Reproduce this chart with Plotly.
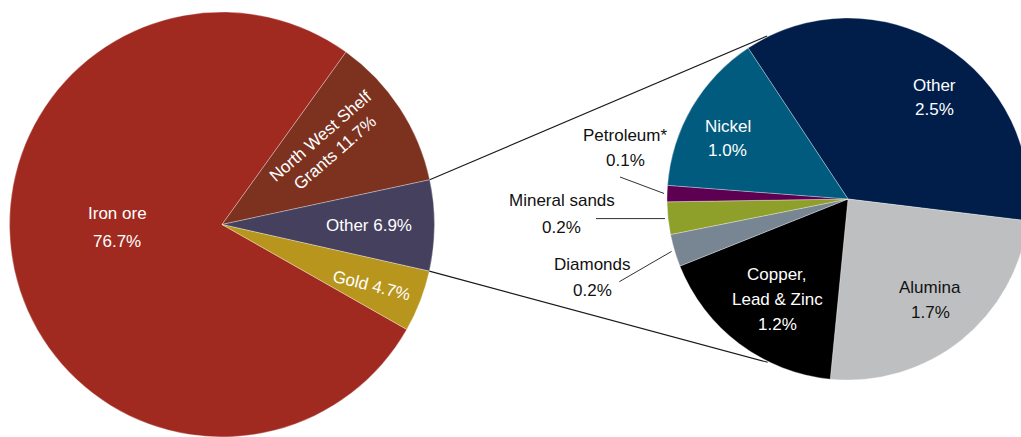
import math
import plotly.graph_objects as go

# ---- data -------------------------------------------------------------
# Main pie: share of royalty income (%)
main_names = ["Iron ore", "North West Shelf<br>Grants", "Other", "Gold"]
main_values = [76.7, 11.7, 6.9, 4.7]
main_seps = ["<br>", " ", " ", " "]

# Breakdown of the "Other" slice (%)
other_names = ["Other", "Alumina", "Copper,<br>Lead & Zinc", "Diamonds",
               "Mineral sands", "Petroleum*", "Nickel"]
other_values = [2.5, 1.7, 1.2, 0.2, 0.2, 0.1, 1.0]

# ---- styling ----------------------------------------------------------
main_colors = ["#A12A20", "#7D3220", "#45405E", "#B8951D"]
other_colors = ["#011E4B", "#BEBFC1", "#000000", "#788592",
                "#8FA02A", "#5D0052", "#005B7E"]

W, H = 1030, 437
FONT = "Liberation Sans, Arial, sans-serif"
FS = 17

# pie boxes in pixels (left, top, size)
main_box = (9.5, 12.0, 425.0)
other_box = (667.0, 18.0, 362.0)
main_rotation = 119.6     # start angle of first slice, clockwise from 12 o'clock
other_rotation = -33.5

# label centres in pixels, text angle, text colour, line spacing
main_label_pos = [(117, 227.5, 0, "white", 28), (328, 145, -41, "white", None),
                  (369, 225, 0, "white", 24), (371, 285, 14, "white", 24)]
other_label_pos = [(934, 97.3, 0, "white", 24.5), (930, 300, 0, "#111111", 25),
                   (777, 299.6, 0, "white", 24.8), (592.6, 277.8, 0, "#111111", 26),
                   (561.6, 213.8, 0, "#111111", 26.7), (625, 148.3, 0, "#111111", 25),
                   (727.5, 138.7, 0, "white", 24)]
outside_slices = {"Diamonds": (619.3, 281.7), "Mineral sands": (596.0, None),
                  "Petroleum*": (620.0, 177.0)}


def px_to_paper(x, y):
    return x / W, 1 - y / H


def box_domain(box):
    left, top, size = box
    x0, y1 = px_to_paper(left, top)
    x1, y0 = px_to_paper(left + size, top + size)
    return dict(x=[x0, x1], y=[max(0.0, y0), min(1.0, y1)])


def centre_radius(box):
    left, top, size = box
    return left + size / 2, top + size / 2, size / 2


def point_on(box, angle_deg, r_extra=0.0):
    cx, cy, r = centre_radius(box)
    a = math.radians(angle_deg)
    rr = r + r_extra
    return cx + rr * math.sin(a), cy - rr * math.cos(a)


def bounds(values, rotation):
    total = sum(values)
    out, cur = [], rotation
    for v in values:
        nxt = cur + 360.0 * v / total
        out.append((cur, nxt))
        cur = nxt
    return out


fig = go.Figure()

slice_line = dict(color="rgba(255,255,255,0.45)", width=0.7)

fig.add_trace(go.Pie(
    labels=[n.replace("<br>", " ") for n in main_names], values=main_values,
    sort=False, direction="clockwise", rotation=main_rotation,
    marker=dict(colors=main_colors, line=slice_line),
    textinfo="none", hoverinfo="label+value", showlegend=False,
    domain=box_domain(main_box),
))

fig.add_trace(go.Pie(
    labels=[n.replace("<br>", " ") for n in other_names], values=other_values,
    sort=False, direction="clockwise", rotation=other_rotation,
    marker=dict(colors=other_colors, line=slice_line),
    textinfo="none", hoverinfo="label+value", showlegend=False,
    domain=box_domain(other_box),
))

annotations = []


def add_label(text, x, y, ang, col, spacing):
    """Place a label centred at (x, y) px; stack lines manually when a spacing is given."""
    lines = [text] if spacing is None else text.split("<br>")
    n = len(lines)
    for i, line in enumerate(lines):
        ly = y + (i - (n - 1) / 2) * (spacing or 0)
        px, py = px_to_paper(x, ly)
        annotations.append(dict(
            text=line, x=px, y=py, xref="paper", yref="paper",
            xanchor="center", yanchor="middle", showarrow=False, textangle=ang,
            font=dict(family=FONT, size=FS, color=col)))


for name, val, sep, (x, y, ang, col, sp) in zip(main_names, main_values, main_seps, main_label_pos):
    add_label(f"{name}{sep}{val:.1f}%", x, y, ang, col, sp)

for name, val, (x, y, ang, col, sp) in zip(other_names, other_values, other_label_pos):
    add_label(f"{name}<br>{val:.1f}%", x, y, ang, col, sp)

shapes = []


def add_line(p0, p1, width=1.1):
    x0, y0 = px_to_paper(*p0)
    x1, y1 = px_to_paper(*p1)
    shapes.append(dict(type="line", xref="paper", yref="paper",
                       x0=x0, y0=y0, x1=x1, y1=y1,
                       line=dict(color="#1A1A1A", width=width)))


# connectors from the main "Other" slice to the breakdown pie
other_idx = main_names.index("Other")
a_start, a_end = bounds(main_values, main_rotation)[other_idx]
add_line(point_on(main_box, a_start), point_on(other_box, 333.6, 1.0))
add_line(point_on(main_box, a_end), point_on(other_box, 206.2, 1.0))

# leader lines for the thin slices
for name, (b0, b1) in zip(other_names, bounds(other_values, other_rotation)):
    if name in outside_slices:
        inner = point_on(other_box, (b0 + b1) / 2, 3.0)
        ox, oy = outside_slices[name]
        add_line((ox, inner[1] if oy is None else oy), inner, width=0.9)

fig.update_layout(
    width=W, height=H,
    margin=dict(l=0, r=0, t=0, b=0),
    paper_bgcolor="white", plot_bgcolor="white",
    annotations=annotations, shapes=shapes,
)

fig.write_html(
    "out.html",
    config={"displayModeBar": False},
    post_script="document.documentElement.style.overflow='hidden';"
                "document.body.style.overflow='hidden';"
                "document.body.style.margin='0';",
)
